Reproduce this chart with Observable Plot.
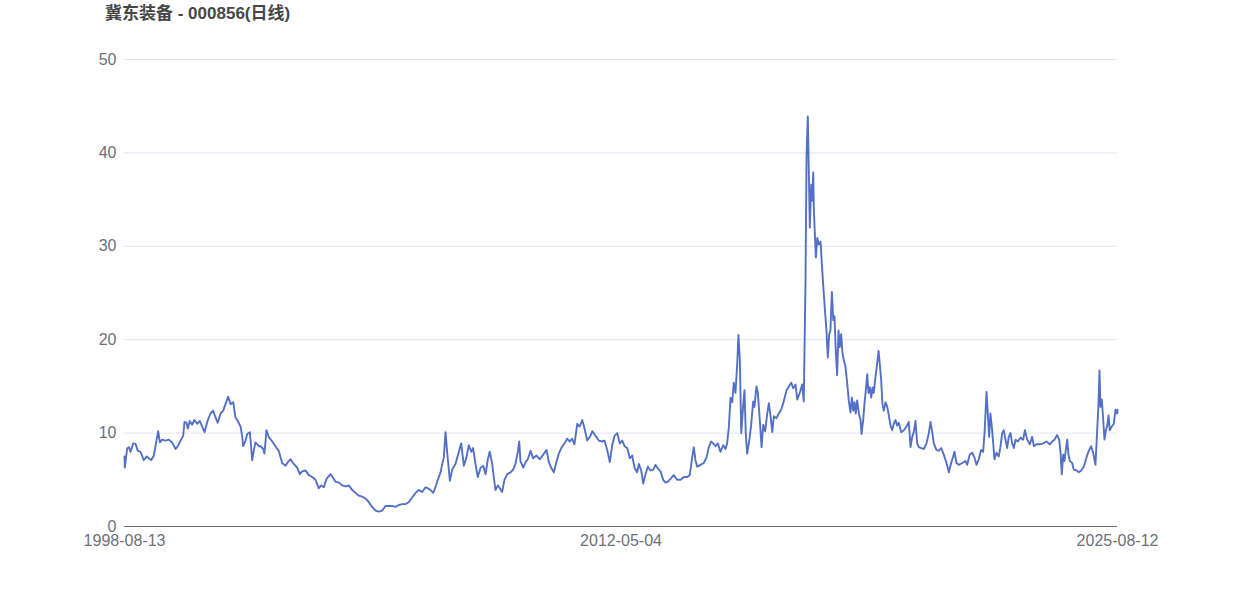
<!DOCTYPE html>
<html>
<head>
<meta charset="utf-8">
<script src="https://cdn.jsdelivr.net/npm/d3@7"></script>
<script src="https://cdn.jsdelivr.net/npm/@observablehq/plot@0.6"></script>
<style>
  html, body { margin: 0; padding: 0; background: #ffffff; }
  #title {
    height: 30px; box-sizing: border-box; padding: 3px 0 0 105px;
    font-family: "Liberation Sans", "Noto Sans CJK SC", Arial, sans-serif;
    font-size: 17px; font-weight: bold; color: #464646; line-height: 22px;
  }
</style>
</head>
<body>
<div id="title">冀东装备 - 000856(日线)</div>
<div id="chart"></div>
<script>
// trading-day index (0 = 1998-08-13, last = 2025-08-12) and close price
const dayIndex = [0,2,17,28,39,56,71,86,103,124,142,157,172,189,206,217,228,243,264,286,307,329,344,361,378,387,400,408,421,436,451,469,485,501,516,533,554,572,586,601,619,636,651,668,683,701,715,730,748,759,765,780,791,808,823,833,844,866,877,894,902,915,930,952,973,994,1016,1038,1053,1070,1091,1113,1130,1145,1167,1188,1210,1231,1252,1268,1285,1302,1328,1345,1360,1381,1403,1424,1446,1468,1489,1510,1532,1553,1575,1596,1618,1639,1661,1682,1703,1725,1747,1768,1790,1811,1832,1854,1876,1897,1919,1940,1955,1972,1990,2004,2019,2037,2048,2058,2069,2080,2097,2112,2133,2155,2170,2187,2204,2219,2235,2247,2262,2277,2295,2312,2327,2342,2354,2370,2380,2391,2406,2419,2434,2449,2467,2488,2505,2520,2535,2544,2552,2570,2585,2599,2617,2634,2655,2677,2699,2720,2735,2750,2767,2784,2799,2815,2836,2853,2870,2885,2900,2918,2934,2950,2965,2982,2999,3016,3036,3057,3079,3094,3111,3128,3143,3158,3176,3192,3208,3223,3240,3257,3272,3287,3304,3315,3330,3343,3358,3373,3390,3408,3422,3437,3455,3472,3487,3502,3519,3540,3562,3584,3605,3627,3643,3659,3669,3680,3691,3712,3734,3751,3766,3781,3794,3809,3824,3841,3859,3874,3884,3895,3906,3917,3927,3938,3949,3957,3966,3975,3988,3996,4004,4013,4026,4039,4052,4060,4073,4082,4095,4106,4117,4129,4142,4153,4164,4175,4185,4202,4217,4232,4249,4267,4282,4297,4310,4325,4336,4352,4368,4378,4389,4396,4404,4410,4417,4426,4432,4439,4443,4449,4456,4465,4475,4486,4497,4507,4516,4524,4533,4542,4550,4559,4568,4576,4584,4593,4602,4610,4619,4628,4636,4647,4658,4668,4679,4688,4697,4705,4713,4722,4733,4744,4750,4761,4769,4778,4787,4795,4804,4813,4821,4829,4840,4851,4860,4868,4877,4885,4894,4905,4916,4926,4937,4948,4958,4969,4980,4990,5006,5023,5040,5055,5066,5077,5087,5098,5109,5119,5135,5152,5169,5184,5195,5206,5216,5233,5248,5264,5280,5298,5313,5328,5341,5349,5362,5377,5399,5420,5431,5448,5463,5478,5491,5506,5521,5534,5543,5556,5564,5573,5581,5590,5599,5607,5620,5635,5646,5657,5667,5678,5689,5699,5710,5721,5732,5743,5757,5775,5792,5803,5818,5835,5850,5861,5878,5899,5921,5942,5964,5979,5994,6011,6024,6033,6041,6050,6058,6067,6076,6084,6093,6108,6118,6136,6151,6166,6183,6200,6215,6230,6243,6258,6269,6276,6284,6290,6299,6308,6316,6325,6334,6342,6350,6363,6376,6387,6398,6400];
const closePrice = [7.5,6.3,8.35,8.5,8.0,8.9,8.85,8.1,8.0,7.1,7.5,7.3,7.1,7.6,9.2,10.2,9.0,9.3,9.2,9.3,9.0,8.3,8.6,9.2,9.7,11.2,11.1,10.5,11.3,10.9,11.4,11.0,11.3,10.7,10.1,11.2,12.1,12.4,11.7,11.1,12.1,12.4,13.1,13.9,13.1,13.3,11.7,11.3,10.7,9.6,8.6,9.2,9.9,10.1,7.1,8.1,9.0,8.6,8.6,8.3,7.8,10.3,9.6,9.1,8.6,8.1,6.8,6.5,6.9,7.2,6.7,6.3,5.6,5.9,6.0,5.5,5.3,5.0,4.1,4.4,4.2,5.1,5.6,5.2,4.8,4.7,4.4,4.3,4.4,3.9,3.6,3.3,3.2,3.0,2.6,2.1,1.7,1.6,1.7,2.2,2.2,2.2,2.1,2.3,2.4,2.4,2.6,3.1,3.6,3.9,3.7,4.2,4.1,3.9,3.6,4.2,5.0,5.8,6.7,7.4,10.1,7.9,4.9,6.1,6.7,8.0,8.9,6.5,7.4,8.7,8.0,8.4,6.7,5.3,6.3,6.5,5.6,7.2,8.0,6.7,5.3,3.9,4.4,4.1,3.7,5.0,5.6,5.8,6.1,6.7,8.0,9.1,7.0,6.3,6.9,7.2,8.1,7.3,7.6,7.2,7.7,8.2,6.9,6.3,5.8,6.9,7.8,8.4,8.9,9.4,9.1,9.4,8.8,11.0,10.7,11.4,10.5,9.2,9.6,10.2,9.7,9.2,9.1,9.2,8.2,6.9,8.7,9.7,10.0,8.9,9.2,8.6,8.4,7.3,7.6,6.3,5.8,6.7,6.0,4.6,5.6,6.4,6.0,6.1,6.6,6.2,5.9,5.0,4.7,4.8,5.1,5.5,5.0,5.0,5.3,5.3,5.5,7.4,8.5,7.1,6.4,6.6,6.8,7.4,8.5,9.1,8.9,8.6,8.9,8.0,8.7,8.3,8.9,10.6,13.8,13.3,15.4,14.3,17.4,20.5,17.8,10.0,13.1,14.6,10.0,7.8,9.1,10.9,13.4,12.8,15.0,14.3,11.3,8.5,10.9,10.2,12.0,13.2,11.8,10.1,11.8,11.6,12.1,12.5,13.4,14.6,15.0,15.4,14.8,15.2,13.6,14.3,15.2,13.4,26.0,39.9,43.9,38.5,32.0,36.6,34.9,37.9,33.9,31.5,28.8,30.9,30.2,30.5,27.4,24.9,22.8,21.0,18.1,20.6,21.0,25.1,22.1,22.5,18.9,16.2,21.0,19.2,20.6,18.5,17.8,17.1,15.3,13.5,12.2,13.8,12.4,13.3,12.1,13.5,12.1,11.4,9.9,11.4,13.1,14.6,16.3,14.3,14.9,13.8,14.9,14.3,16.0,17.4,18.8,17.4,15.6,13.1,12.4,13.3,12.8,11.9,10.8,10.3,11.0,11.4,10.8,11.1,10.1,10.3,10.7,11.2,8.5,9.6,10.1,11.3,8.9,8.5,8.4,8.3,8.9,10.0,11.2,10.1,8.9,8.2,8.1,8.4,7.7,6.8,5.8,6.8,7.5,8.0,6.8,6.6,6.8,7.0,6.6,7.7,7.9,7.4,6.6,7.2,8.2,8.0,10.0,14.4,12.1,9.6,12.1,10.7,8.9,7.2,7.9,7.5,8.6,10.0,10.3,9.3,8.4,9.6,10.0,8.9,8.4,9.3,9.1,9.5,9.3,10.3,9.3,8.8,9.6,8.6,8.8,8.8,8.9,9.1,8.8,9.1,9.3,9.8,9.3,7.9,5.6,7.7,7.0,8.2,9.3,7.7,7.0,6.8,6.1,6.0,5.8,6.0,6.4,7.4,8.1,8.6,7.9,6.6,10.3,12.5,16.7,12.8,13.6,11.4,9.3,10.3,10.8,11.9,10.3,10.7,11.0,12.5,12.1,12.5];
const xTickIndex = [0, 3200, 6400];
const xTickLabels = ["1998-08-13", "2012-05-04", "2025-08-12"];
const yTicks = [0, 10, 20, 30, 40, 50];

const data = dayIndex.map((d, i) => ({day: d, close: closePrice[i]}));
const labelOf = new Map(xTickIndex.map((d, i) => [d, xTickLabels[i]]));

const chart = Plot.plot({
  width: 1242,
  height: 566,
  marginTop: 29,
  marginBottom: 70,
  marginLeft: 124,
  marginRight: 125,
  style: {fontFamily: "'Liberation Sans', Arial, sans-serif", background: "#ffffff"},
  x: {type: "linear", domain: [0, 6400]},
  y: {domain: [0, 50]},
  marks: [
    Plot.gridY(yTicks.filter(d => d > 0), {stroke: "#e0e6f1", strokeOpacity: 1, strokeWidth: 1}),
    Plot.ruleY([0], {stroke: "#6e7079", strokeWidth: 1}),
    Plot.line(data, {x: "day", y: "close", stroke: "#5470c6", strokeWidth: 1.9, curve: "linear"}),
    Plot.axisY(yTicks, {tickSize: 0, tickPadding: 8, fontSize: 16, color: "#6e7079", label: null}),
    Plot.axisX(xTickIndex, {tickSize: 0, tickPadding: 8, fontSize: 16, color: "#6e7079", label: null, tickFormat: d => labelOf.get(d)})
  ]
});
document.getElementById("chart").appendChild(chart);
</script>
</body>
</html>
